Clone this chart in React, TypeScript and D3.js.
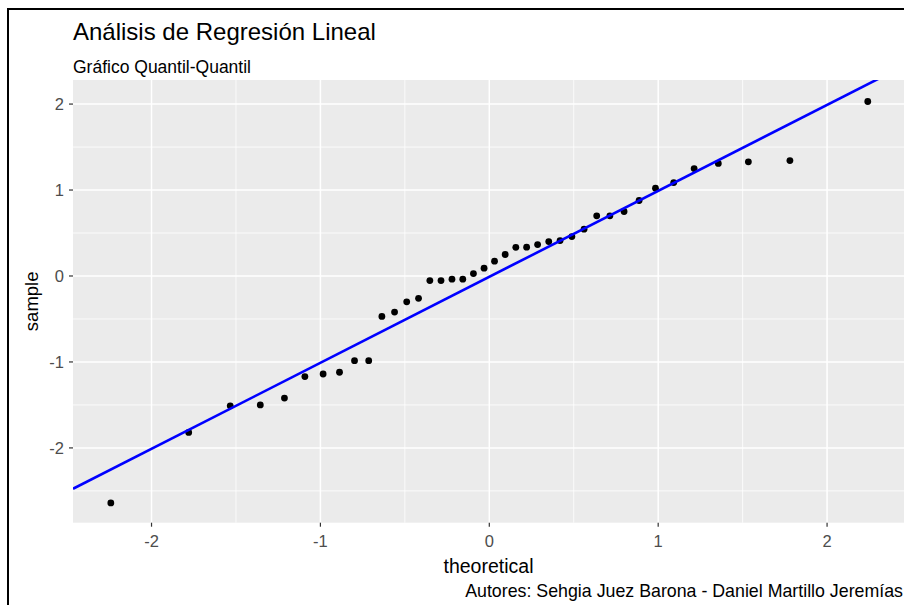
import React from "react";
import * as d3 from "d3";

const theoretical = [
  -2.241, -1.780, -1.534, -1.356, -1.213, -1.092, -0.984, -0.887, -0.798, -0.714,
  -0.636, -0.561, -0.489, -0.419, -0.352, -0.286, -0.221, -0.157, -0.094, -0.031,
  0.031, 0.094, 0.157, 0.221, 0.286, 0.352, 0.419, 0.489, 0.561, 0.636,
  0.714, 0.798, 0.887, 0.984, 1.092, 1.213, 1.356, 1.534, 1.780, 2.241
];
const sample = [
  -2.64, -1.82, -1.51, -1.50, -1.42, -1.17, -1.14, -1.12, -0.985, -0.985,
  -0.47, -0.42, -0.30, -0.26, -0.053, -0.053, -0.037, -0.037, 0.028, 0.091,
  0.172, 0.25, 0.333, 0.335, 0.366, 0.40, 0.412, 0.459, 0.545, 0.70,
  0.70, 0.75, 0.878, 1.022, 1.087, 1.25, 1.309, 1.328, 1.343, 2.03
];
const lineSlope = 1.0;
const lineIntercept = -0.01;

const xTicks = [-2, -1, 0, 1, 2];
const xMinor = [-1.5, -0.5, 0.5, 1.5];
const yTicks = [-2, -1, 0, 1, 2];
const yMinor = [-2.5, -1.5, -0.5, 0.5, 1.5];

const title = "Análisis de Regresión Lineal";
const subtitle = "Gráfico Quantil-Quantil";
const caption = "Autores: Sehgia Juez Barona - Daniel Martillo Jeremías";

const W = 904, H = 605;
const panel = { left: 73, top: 80, right: 905.6, bottom: 522.7 };
const font = "'Liberation Sans', Arial, sans-serif";

export default function App() {
  const x = d3.scaleLinear().domain([-2.465, 2.465]).range([panel.left, panel.right]);
  const y = d3.scaleLinear().domain([-2.87, 2.28]).range([panel.bottom, panel.top]);

  const pts = theoretical.map((t, i) => ({ t, s: sample[i] }));
  const [x0, x1] = x.domain();
  const qqLine = d3.line<number>()
    .x(d => x(d))
    .y(d => y(lineIntercept + lineSlope * d));

  return (
    <svg width={W} height={H} style={{ position: "absolute", left: 0, top: 0, display: "block" }}
      fontFamily={font}>
      <rect x={0} y={0} width={W} height={H} fill="#fff" />
      <defs>
        <clipPath id="panel-clip">
          <rect x={panel.left} y={panel.top} width={panel.right - panel.left} height={panel.bottom - panel.top} />
        </clipPath>
      </defs>

      {/* panel */}
      <rect x={panel.left} y={panel.top} width={panel.right - panel.left} height={panel.bottom - panel.top} fill="#EBEBEB" />
      {xMinor.map(v => (
        <line key={"xm" + v} x1={x(v)} x2={x(v)} y1={panel.top} y2={panel.bottom} stroke="#fff" strokeWidth={0.8} />
      ))}
      {yMinor.map(v => (
        <line key={"ym" + v} x1={panel.left} x2={panel.right} y1={y(v)} y2={y(v)} stroke="#fff" strokeWidth={0.8} />
      ))}
      {xTicks.map(v => (
        <line key={"xM" + v} x1={x(v)} x2={x(v)} y1={panel.top} y2={panel.bottom} stroke="#fff" strokeWidth={1.5} />
      ))}
      {yTicks.map(v => (
        <line key={"yM" + v} x1={panel.left} x2={panel.right} y1={y(v)} y2={y(v)} stroke="#fff" strokeWidth={1.5} />
      ))}

      <g clipPath="url(#panel-clip)">
        {pts.map((p, i) => (
          <circle key={i} cx={x(p.t)} cy={y(p.s)} r={3.4} fill="#000" />
        ))}
        <path d={qqLine([x0, x1]) || ""} stroke="#0000FF" strokeWidth={2.6} fill="none" />
      </g>

      {/* axes */}
      {xTicks.map(v => (
        <g key={"xt" + v}>
          <line x1={x(v)} x2={x(v)} y1={panel.bottom} y2={panel.bottom + 4} stroke="#333" strokeWidth={1.2} />
          <text x={x(v)} y={panel.bottom + 24} textAnchor="middle" fontSize={16.5} fill="#4D4D4D">
            {v < 0 ? "-" + Math.abs(v) : v}
          </text>
        </g>
      ))}
      {yTicks.map(v => (
        <g key={"yt" + v}>
          <line x1={panel.left - 4} x2={panel.left} y1={y(v)} y2={y(v)} stroke="#333" strokeWidth={1.2} />
          <text x={panel.left - 9} y={y(v) + 6} textAnchor="end" fontSize={16.5} fill="#4D4D4D">
            {v < 0 ? "-" + Math.abs(v) : v}
          </text>
        </g>
      ))}

      <text x={(panel.left + 904) / 2} y={573} textAnchor="middle" fontSize={19.5} fill="#000">theoretical</text>
      <text transform={`translate(38, ${(panel.top + panel.bottom) / 2}) rotate(-90)`} textAnchor="middle"
        fontSize={18.5} fill="#000">sample</text>

      <text x={panel.left} y={40} fontSize={24} fill="#000">{title}</text>
      <text x={panel.left} y={73} fontSize={17.5} fill="#000">{subtitle}</text>
      <text x={903} y={597} textAnchor="end" fontSize={17.8} fill="#000">{caption}</text>

      {/* frame from the screenshot */}
      <line x1={8} x2={W} y1={9} y2={9} stroke="#000" strokeWidth={2} />
      <line x1={8} x2={8} y1={8} y2={H} stroke="#000" strokeWidth={2} />
    </svg>
  );
}
